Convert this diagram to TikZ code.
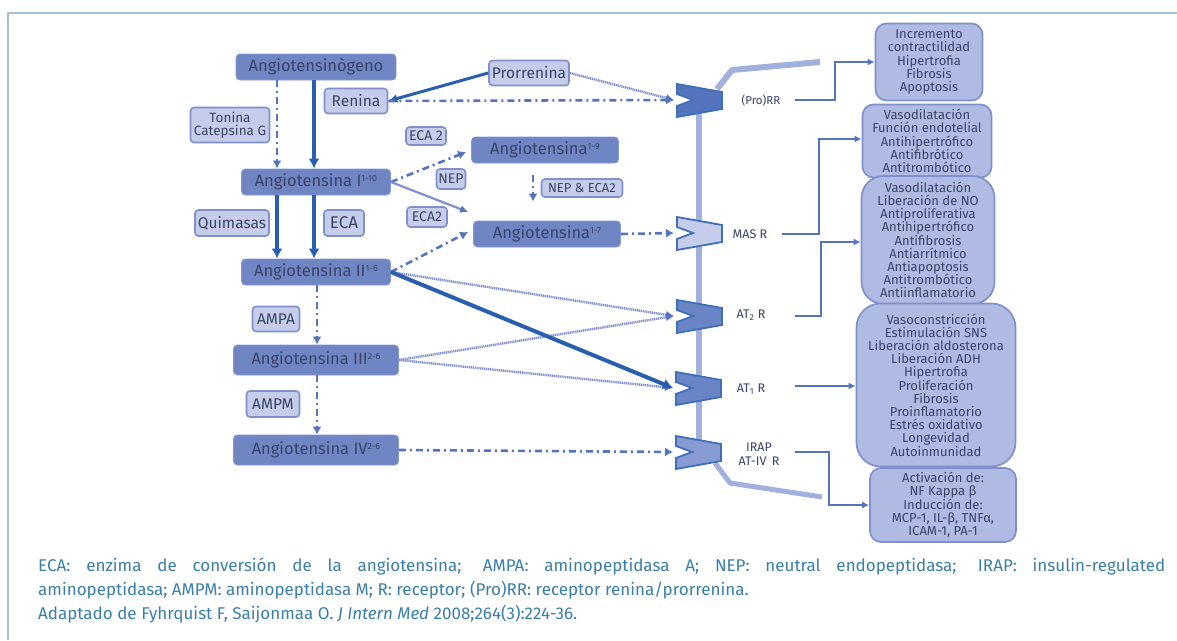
\documentclass[tikz,border=0pt]{standalone}
\usepackage{fontspec}
\setmainfont{Fira Sans}
\usetikzlibrary{arrows.meta,calc}
\definecolor{ink}{HTML}{3A4468}
\definecolor{bluedk}{HTML}{2A5FB0}
\definecolor{bluemd}{HTML}{5574BE}
\definecolor{boxfill}{HTML}{6F85C4}
\definecolor{lightfill}{HTML}{C5CDEA}
\definecolor{lightedge}{HTML}{7F90CC}
\definecolor{sidefill}{HTML}{B0BBE3}
\definecolor{capcol}{HTML}{3A7FA8}
\definecolor{framecol}{HTML}{A6C0DA}
\newcommand{\sups}[1]{\raisebox{5pt}{\fontsize{9}{9}\selectfont #1}}
\tikzset{
  x=1pt,y=-1pt,
  mainbox/.style={draw=boxfill!85!white,fill=boxfill,rounded corners=4pt,line width=.8pt,text=ink,font=\fontsize{16.5}{16.5}\selectfont,inner sep=0pt,minimum height=26pt},
  enz/.style={draw=lightedge,fill=lightfill,rounded corners=3.5pt,line width=1.6pt,text=ink,font=\fontsize{15.5}{15.5}\selectfont,inner sep=0pt},
  enzsmall/.style={enz,font=\fontsize{14}{14}\selectfont},
  side/.style={draw=lightedge,fill=sidefill,line width=1.7pt,text=ink,align=center,font=\fontsize{13}{13.2}\selectfont,inner sep=0pt},
  rlabel/.style={text=ink,align=center,font=\fontsize{12.5}{13.5}\selectfont,inner sep=0pt},
  solidarrow/.style={draw=bluedk,line width=4.2pt,-{Latex[length=10pt,width=11pt]}},
  thinarrow/.style={draw=lightedge,line width=2.2pt,-{Latex[length=8pt,width=8pt,color=bluemd]}},
  dottedarrow/.style={draw=lightedge,line width=2.4pt,dash pattern=on 1.2pt off .7pt,-{Latex[length=8pt,width=8pt,color=bluemd]}},
  dotarrow/.style={draw=bluemd,line width=2.6pt,dash pattern=on 7pt off 4pt on 2pt off 4pt,-{Latex[length=8pt,width=9pt]}},
  side arrow/.style={draw=bluemd,line width=2pt,-{Latex[length=7pt,width=7pt]}},
  trunk/.style={draw=sidefill!85!bluemd,line width=6pt,line join=round},
  recep/.style={draw=bluedk!90!white,line width=1.8pt,line join=miter},
}
\newcommand{\recept}[3]{% name, (x,y), fill
  \path[recep,fill=#3] ($(#2)+(-21,-16)$) -- ($(#2)+(24,-8)$) -- ($(#2)+(24,9)$) -- ($(#2)+(-21,17)$)
     -- ($(#2)+(-21,6)$) -- ($(#2)+(-5,0)$) -- ($(#2)+(-21,-6)$) -- cycle;
  \coordinate (#1) at ($(#2)+(-24,0)$);
}
\begin{document}
\begin{tikzpicture}
\useasboundingbox (0,0) rectangle (1177,640);
\fill[white] (0,0) rectangle (1177,640);
\draw[framecol,line width=2pt] (8,640) -- (8,13) -- (1177,13);

% trunk of the membrane
\draw[trunk] (699,95) -- (699,440);
\draw[trunk] (717,89) -- (732,70) -- (820,62);
\draw[trunk,line width=5pt] (715,463) -- (730,483) -- (822,497);

% main boxes
\node[mainbox,minimum width=160pt] (ao) at (316,67) {Angiotensinògeno};
\node[mainbox,minimum width=149pt] (a1) at (316,182) {Angiotensina I\sups{1-10}};
\node[mainbox,minimum width=149pt] (a2) at (316,272) {Angiotensina II\sups{1-6}};
\node[mainbox,minimum width=165pt,minimum height=30pt] (a3) at (316,360) {Angiotensina III\sups{2-6}};
\node[mainbox,minimum width=165pt,minimum height=30pt] (a4) at (316,450) {Angiotensina IV\sups{2-6}};
\node[mainbox,minimum width=147pt] (a19) at (545,150) {Angiotensina\sups{1-9}};
\node[mainbox,minimum width=147pt] (a17) at (547,234) {Angiotensina\sups{1-7}};

% enzymes
\node[enz,minimum width=63pt,minimum height=25pt] (ren) at (356,101) {Renina};
\node[enz,minimum width=80pt,minimum height=25pt] (pro) at (529,73) {Prorrenina};
\node[enz,minimum width=79pt,minimum height=35pt,align=center,font=\fontsize{13.5}{13.5}\selectfont] (ton) at (230,125) {Tonina\\Catepsina G};
\node[enz,minimum width=74pt,minimum height=26pt] (qui) at (232,223) {Quimasas};
\node[enz,minimum width=40pt,minimum height=26pt,font=\fontsize{17}{17}\selectfont] (eca) at (344,223) {ECA};
\node[enzsmall,minimum width=40pt,minimum height=18pt] (eca2a) at (426,136) {ECA 2};
\node[enzsmall,minimum width=29pt,minimum height=20pt] (nep) at (451,179) {NEP};
\node[enzsmall,minimum width=40pt,minimum height=20pt] (eca2b) at (427,217) {ECA2};
\node[enzsmall,minimum width=81pt,minimum height=18pt,font=\fontsize{13}{13}\selectfont] (nepeca) at (582,188) {NEP \& ECA2};
\node[enz,minimum width=47pt,minimum height=25pt] (ampa) at (276,319) {AMPA};
\node[enz,minimum width=53pt,minimum height=26pt] (ampm) at (273,404) {AMPM};

% receptors
\recept{rp}{698,100}{bluemd}
\recept{rm}{698,233}{lightfill}
\recept{r2}{698,316}{bluemd!88!white}
\recept{r1}{697,388}{bluemd!88!white}
\recept{ri}{697,452}{sidefill!55!bluemd}

% receptor labels
\node[rlabel,font=\fontsize{11.5}{12}\selectfont] (lp) at (761,100) {(Pro)RR};
\node[rlabel] (lm) at (750,234) {MAS R};
\node[rlabel] (l2) at (751,315) {AT\textsubscript{2} R};
\node[rlabel] (l1) at (751,389) {AT\textsubscript{1} R};
\node[rlabel] (li) at (759,454) {IRAP\\AT-IV\, R};

% outcome boxes
\node[side,minimum width=107pt,minimum height=77pt,rounded corners=11pt] (s1) at (929,62) {Incremento\\contractilidad\\Hipertrofia\\Fibrosis\\Apoptosis};
\node[side,minimum width=129pt,minimum height=73pt,rounded corners=11pt] (s2) at (927,141) {Vasodilatación\\Función endotelial\\Antihipertrófico\\Antifibrótico\\Antitrombótico};
\node[side,minimum width=133pt,minimum height=128pt,rounded corners=22pt] (s3) at (928,240) {Vasodilatación\\Liberación de NO\\Antiproliferativa\\Antihipertrófico\\Antifibrosis\\Antiarrítmico\\Antiapoptosis\\Antitrombótico\\Antiinflamatorio};
\node[side,minimum width=159pt,minimum height=163pt,rounded corners=24pt] (s4) at (936,385) {Vasoconstricción\\Estimulación SNS\\Liberación aldosterona\\Liberación ADH\\Hipertrofia\\Proliferación\\Fibrosis\\Proinflamatorio\\Estrés oxidativo\\Longevidad\\Autoinmunidad};
\node[side,minimum width=146pt,minimum height=74pt,rounded corners=11pt] (s5) at (943,505) {Activación de:\\NF Kappa β\\Inducción de:\\MCP-1, IL-β, TNFα,\\ICAM-1, PA-1};

% left column connectors
\draw[solidarrow] (ao.south -| 314,0) -- (a1.north -| 314,0);
\draw[dotarrow] (ao.south -| 277,0) -- (a1.north -| 277,0);
\draw[solidarrow] (a1.south -| 277,0) -- (a2.north -| 277,0);
\draw[solidarrow] (a1.south -| 314,0) -- (a2.north -| 314,0);
\draw[dotarrow] (a2.south -| 317,0) -- (a3.north -| 317,0);
\draw[dotarrow] (a3.south -| 317,0) -- (a4.north -| 317,0);

% renin
\draw[draw=bluedk,line width=3pt,-{Latex[length=9pt,width=9pt]}] (pro.west) -- (ren.east);
\draw[dotarrow] (ren.east) -- (rp);
\draw[dottedarrow] (pro.east) -- (rp);

% angiotensin I branches
\draw[dotarrow] (a1.east) -- ($(a19.west)+(-5,2)$);
\draw[thinarrow] (a1.east) -- ($(a17.west)+(-5,-22)$);
\draw[dotarrow] (a2.east) -- ($(a17.west)+(-5,-2)$);
\draw[dotarrow] ($(a19.south)+(-12,12)$) -- ($(a17.north)+(-14,-19)$);
\draw[dotarrow] (a17.east) -- (rm);

% to receptors
\draw[dottedarrow] (a2.east) -- (r2);
\draw[dottedarrow] (a3.east) -- (r2);
\draw[dottedarrow] (a3.east) -- (r1);
\draw[draw=bluedk,line width=4pt,-{Latex[length=10pt,width=11pt]}] (a2.east) -- (r1);
\draw[dotarrow] (a4.east) -- (ri);

% right connectors
\coordinate (o1) at (795,100);
\coordinate (o2) at (782,234);
\coordinate (o3) at (795,316);
\coordinate (o4) at (795,386);
\coordinate (o5) at (795,452);
\draw[side arrow] (o1) -- (835,100) -- (835,62) -- (s1.west |- 0,62);
\draw[side arrow] (o2) -- (819,234) -- (819,139) -- (s2.west |- 0,139);
\draw[side arrow] (o3) -- (821,316) -- (821,242) -- (s3.west |- 0,242);
\draw[side arrow] (o4) -- (s4.west |- 0,386);
\draw[side arrow] (o5) -- (829,452) -- (829,505) -- (s5.west |- 0,505);

% caption
\node[anchor=north west,inner sep=0pt,text=capcol,font=\fontsize{17}{24}\selectfont,align=justify,text width=1127pt] (cap) at (38,558) {ECA: enzima de conversión de la angiotensina; AMPA: aminopeptidasa A; NEP: neutral endopeptidasa; IRAP: insulin-regulated\linebreak aminopeptidasa; AMPM: aminopeptidasa M; R: receptor; (Pro)RR: receptor renina/prorrenina.\\Adaptado de Fyhrquist F, Saijonmaa O. \textit{J Intern Med} 2008;264(3):224-36.};
\end{tikzpicture}
\end{document}
